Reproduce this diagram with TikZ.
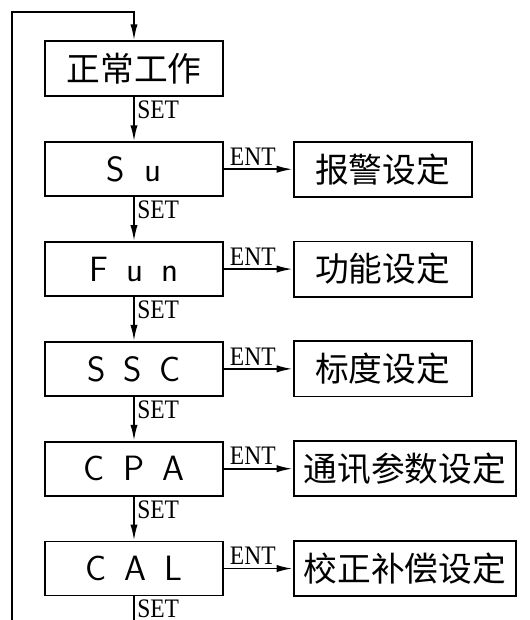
\documentclass[tikz,border=0pt]{standalone}
\usepackage{fontspec}
\newfontfamily\cjk{Noto Sans CJK SC}
\newfontfamily\keyfont{Liberation Serif}
\usetikzlibrary{arrows.meta,positioning,calc}

\begin{document}
\begin{tikzpicture}[
	dispnode/.style={rectangle, draw=black, line width=1.3pt, minimum width=4.45cm, minimum height=1.35cm, font=\sffamily\fontsize{25}{25}\selectfont},
	menunode/.style={rectangle, draw=black, line width=1.3pt, minimum width=4.45cm, minimum height=1.38cm, inner xsep=0.25cm, font=\cjk\fontsize{24}{24}\selectfont},
	keylabel/.style={font=\keyfont\fontsize{19}{19}\selectfont, inner sep=2pt, xscale=0.88},
	link/.style={line width=1.3pt, -{Latex[length=4mm,width=1.8mm]}},
	node distance=1.1cm and 1.72cm
	]
	\useasboundingbox (0,0) rectangle (13.25,-15.5);
	%Nodes
	\node[menunode]      (work)     at (3.35,-1.72)      {正常工作};
	\node[dispnode]      (su)       [below=of work]      {S\hspace{0.5cm}u};
	\node[dispnode]      (fun)      [below=of su]        {F\hspace{0.45cm}u\hspace{0.45cm}n};
	\node[dispnode]      (ssc)      [below=of fun]       {S\hspace{0.45cm}S\hspace{0.45cm}C};
	\node[dispnode]      (cpa)      [below=of ssc]       {C\hspace{0.45cm}P\hspace{0.45cm}A};
	\node[dispnode]      (cal)      [below=of cpa]       {C\hspace{0.45cm}A\hspace{0.45cm}L};
	\node[menunode]      (alarm)    [right=of su]        {报警设定};
	\node[menunode]      (func)     [right=of fun]       {功能设定};
	\node[menunode]      (scale)    [right=of ssc]       {标度设定};
	\node[menunode]      (comm)     [right=of cpa]       {通讯参数设定};
	\node[menunode]      (calib)    [right=of cal]       {校正补偿设定};
	\coordinate (loopbot) at (0.3,-15.5);
	\coordinate (looptop) at (0.3,-0.3);
	\coordinate (calout) at (cal.south |- loopbot);
	%Lines
	\draw[link] (work.south) -- node[keylabel, anchor=north west, pos=0] {SET} (su.north);
	\draw[link] (su.south) -- node[keylabel, anchor=north west, pos=0] {SET} (fun.north);
	\draw[link] (fun.south) -- node[keylabel, anchor=north west, pos=0] {SET} (ssc.north);
	\draw[link] (ssc.south) -- node[keylabel, anchor=north west, pos=0] {SET} (cpa.north);
	\draw[link] (cpa.south) -- node[keylabel, anchor=north west, pos=0] {SET} (cal.north);
	\draw[line width=1.3pt] (cal.south) -- node[keylabel, anchor=north west, pos=0] {SET} (calout);
	\draw[link] (su.east) -- node[keylabel, above, pos=0.42] {ENT} (alarm.west);
	\draw[link] (fun.east) -- node[keylabel, above, pos=0.42] {ENT} (func.west);
	\draw[link] (ssc.east) -- node[keylabel, above, pos=0.42] {ENT} (scale.west);
	\draw[link] (cpa.east) -- node[keylabel, above, pos=0.42] {ENT} (comm.west);
	\draw[link] (cal.east) -- node[keylabel, above, pos=0.42] {ENT} (calib.west);
	%loop back
	\draw[link] (loopbot) -- (looptop) -| (work.north);
\end{tikzpicture}
\end{document}
